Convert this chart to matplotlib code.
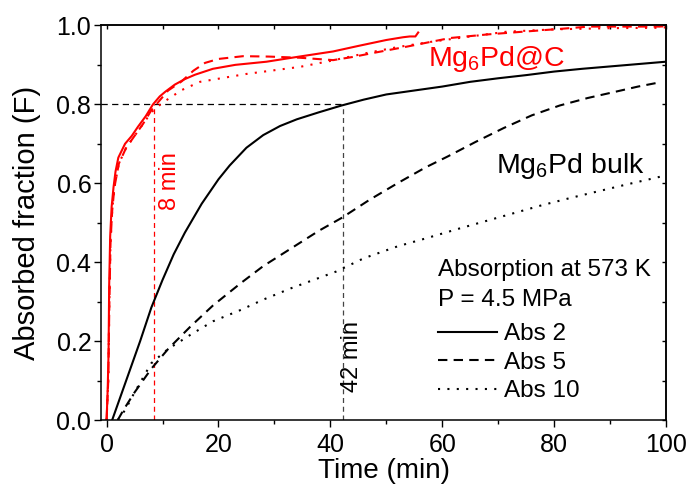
import matplotlib
matplotlib.use("Agg")
import matplotlib.pyplot as plt
from matplotlib.ticker import MultipleLocator, FormatStrFormatter, NullFormatter

plt.rcParams['font.family'] = ['Liberation Sans', 'DejaVu Sans']
plt.rcParams['mathtext.default'] = 'regular'

# ---- data: Mg6Pd bulk ----
bulk2_t = [1.0, 2, 4, 6, 8, 10, 12, 14, 17, 20, 22, 25, 28, 31, 34, 38, 42, 46, 50, 55, 60, 65, 70, 75, 80, 85, 90, 95, 100]
bulk2_F = [0, 0.04, 0.12, 0.2, 0.285, 0.355, 0.42, 0.475, 0.548, 0.61, 0.645, 0.69, 0.722, 0.745, 0.762, 0.78, 0.797, 0.812, 0.825, 0.835, 0.845, 0.857, 0.866, 0.874, 0.883, 0.89, 0.896, 0.902, 0.908]

bulk5_t = [2, 3, 5, 8, 11, 15, 19, 24, 28, 33, 38, 42, 47, 52, 57, 61, 66, 71, 76, 81, 86, 91, 95, 99]
bulk5_F = [0, 0.025, 0.07, 0.13, 0.18, 0.237, 0.29, 0.347, 0.39, 0.435, 0.48, 0.512, 0.558, 0.6, 0.64, 0.668, 0.705, 0.74, 0.772, 0.797, 0.816, 0.832, 0.845, 0.856]

bulk10_t = [2, 3.3, 5, 8, 11, 15, 19, 24, 28, 33, 37, 41, 46, 52, 57, 63, 68, 73, 78, 83, 88, 93, 97, 100]
bulk10_F = [0, 0.025, 0.07, 0.144, 0.18, 0.216, 0.25, 0.279, 0.305, 0.334, 0.355, 0.376, 0.41, 0.44, 0.46, 0.485, 0.505, 0.525, 0.545, 0.563, 0.58, 0.597, 0.61, 0.62]

# ---- data: Mg6Pd@C ----
c2_t = [0, 0.2, 0.35, 0.46, 0.64, 0.9, 1.24, 1.6, 2.1, 3.3, 4.5, 5.6, 7, 8.3, 9.5, 10.5, 12.2, 14, 15.8, 19, 23, 28.6, 34, 40.5, 45, 50, 53, 54.2, 55.2, 55.7]
c2_F = [0, 0.08, 0.17, 0.34, 0.465, 0.54, 0.59, 0.63, 0.665, 0.70, 0.72, 0.743, 0.77, 0.80, 0.82, 0.832, 0.85, 0.864, 0.875, 0.89, 0.90, 0.908, 0.92, 0.934, 0.948, 0.963, 0.97, 0.972, 0.972, 0.982]

c5_t = [0, 0.3, 0.5, 0.7, 1.0, 1.4, 2.2, 3.5, 5, 6.5, 8, 9.5, 11, 13.4, 15.5, 17.6, 20, 24.4, 29, 34.6, 40.5, 44, 47.6, 53.6, 61.4, 68, 74.4, 80, 86.3, 92, 98.8, 100]
c5_F = [0, 0.1, 0.3, 0.45, 0.53, 0.59, 0.65, 0.69, 0.72, 0.75, 0.785, 0.81, 0.835, 0.858, 0.885, 0.905, 0.915, 0.922, 0.921, 0.918, 0.912, 0.92, 0.93, 0.946, 0.968, 0.977, 0.984, 0.99, 0.997, 0.997, 0.997, 0.998]

c10_t = [0, 0.3, 0.5, 0.7, 1.0, 1.4, 2.2, 3.5, 5, 6.5, 8, 9.9, 13.4, 16.7, 18.8, 25, 34.6, 40, 46.5, 52, 58.3, 64, 71.5, 80, 90, 98.8, 100]
c10_F = [0, 0.1, 0.3, 0.45, 0.53, 0.59, 0.65, 0.69, 0.72, 0.75, 0.78, 0.803, 0.836, 0.857, 0.862, 0.877, 0.895, 0.91, 0.93, 0.945, 0.959, 0.97, 0.984, 0.99, 0.993, 0.994, 0.995]

# reference markers
F_ref = 0.8
t_C = 8.4
t_bulk = 42.3

legend_labels = ["Abs 2", "Abs 5", "Abs 10"]
legend_title = "Absorption at 573 K\nP = 4.5 MPa"

fig = plt.figure(figsize=(6.86, 4.86), dpi=100)
ax = fig.add_axes([101/686, 66/486, 565/686, 394.6/486])

lw = 1.5
dash = (4.5, 3.0)
dot = (1.0, 3.5)

red = '#ff0000'
# reference lines
ax.plot([-1, t_bulk], [F_ref, F_ref], color='black', lw=0.9, dashes=(5, 3.5))
ax.plot([t_C, t_C], [0, F_ref], color=red, lw=0.9, dashes=(4, 3))
ax.plot([t_bulk, t_bulk], [0, F_ref], color='#444444', lw=0.9, dashes=(4, 3))

l2, = ax.plot(bulk2_t, bulk2_F, color='black', lw=lw, label=legend_labels[0])
l5, = ax.plot(bulk5_t, bulk5_F, color='black', lw=lw, dashes=dash, label=legend_labels[1])
l10, = ax.plot(bulk10_t, bulk10_F, color='black', lw=lw, dashes=dot, label=legend_labels[2])
ax.plot(c2_t, c2_F, color=red, lw=lw)
ax.plot(c5_t, c5_F, color=red, lw=lw, dashes=dash)
ax.plot(c10_t, c10_F, color=red, lw=lw, dashes=dot)

ax.set_xlim(-1, 100)
ax.set_ylim(0, 1.0)
ax.xaxis.set_major_locator(MultipleLocator(20))
ax.xaxis.set_minor_locator(MultipleLocator(10))
ax.yaxis.set_major_locator(MultipleLocator(0.2))
ax.yaxis.set_minor_locator(MultipleLocator(0.1))
ax.yaxis.set_major_formatter(FormatStrFormatter('%.1f'))
ax.tick_params(which='major', direction='out', length=5, width=1.0, labelsize=18, pad=2)
ax.tick_params(axis='x', which='major', pad=4)
ax.tick_params(which='minor', direction='out', length=3, width=1.0)
for s in ax.spines.values():
    s.set_linewidth(1.1)

# mirrored inward ticks top/right
top = ax.secondary_xaxis('top')
top.xaxis.set_major_locator(MultipleLocator(10))
top.xaxis.set_major_formatter(NullFormatter())
top.tick_params(which='both', direction='in', length=3, width=1.0)
right = ax.secondary_yaxis('right')
right.yaxis.set_major_locator(MultipleLocator(0.1))
right.yaxis.set_major_formatter(NullFormatter())
right.tick_params(which='both', direction='in', length=3, width=1.0)
for sec in (top, right):
    for s in sec.spines.values():
        s.set_linewidth(1.1)

ax.set_xlabel('Time (min)', fontsize=20, labelpad=1)
ax.set_ylabel('Absorbed fraction (F)', fontsize=21, labelpad=11)

ax.text(57.4, 0.896, r'Mg$_6$Pd@C', color=red, fontsize=20.5, ha='left', va='baseline')
ax.text(69.7, 0.625, r'Mg$_6$Pd bulk', color='black', fontsize=20.5, ha='left', va='baseline')
ax.text(11.4, 0.606, '8 min', color=red, fontsize=17, rotation=90, ha='center', va='center')
ax.text(43.9, 0.16, '42 min', color='black', fontsize=17, rotation=90, ha='center', va='center')

leg = ax.legend(handles=[l2, l5, l10], title=legend_title, loc='lower left',
                bbox_to_anchor=(0.597, 0.045), frameon=False, fontsize=17.5,
                title_fontsize=17.5, handlelength=2.4, handletextpad=0.3,
                labelspacing=0.27, borderpad=0, borderaxespad=0)
leg._legend_box.align = 'left'
leg._legend_box.sep = 8.5
leg.get_title().set_linespacing(1.5)

fig.savefig('out.png', dpi=100)
